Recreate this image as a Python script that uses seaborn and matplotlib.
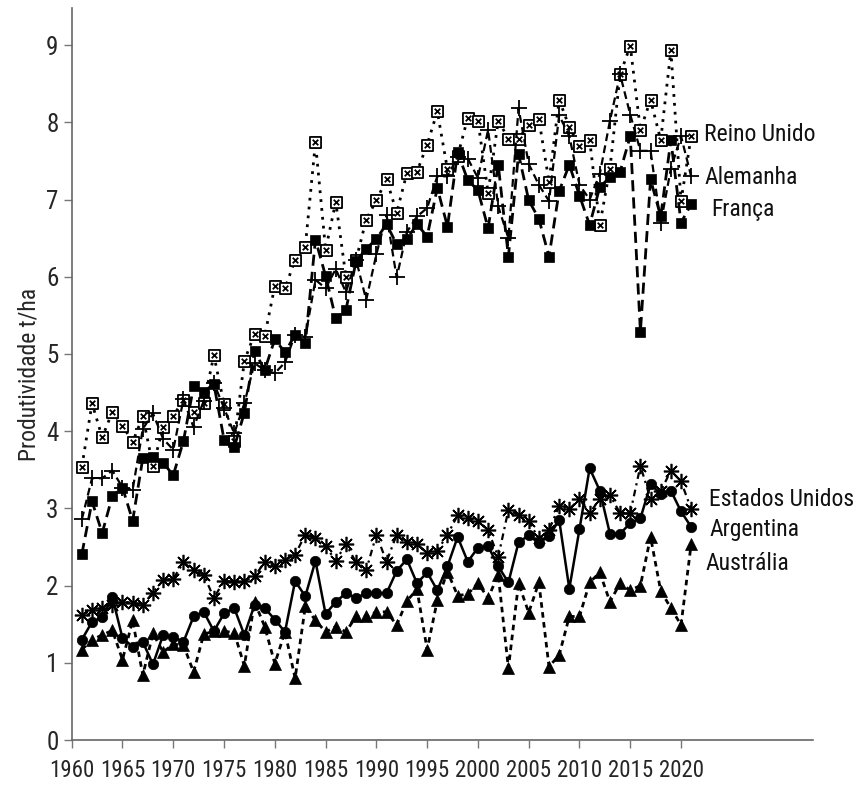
import numpy as np
import seaborn as sns
import matplotlib.pyplot as plt
from matplotlib.path import Path
from matplotlib import font_manager

anos = list(range(1961, 2022))

reino_unido = [3.54, 4.36, 3.92, 4.25, 4.07, 3.86, 4.19, 3.55, 4.05, 4.20,
               4.40, 4.25, 4.37, 4.98, 4.35, 3.87, 4.91, 5.26, 5.23, 5.88,
               5.85, 6.22, 6.39, 7.74, 6.35, 6.97, 6.00, 6.22, 6.74, 6.99,
               7.26, 6.83, 7.34, 7.36, 7.71, 8.14, 7.39, 7.56, 8.06, 8.02,
               7.09, 8.02, 7.79, 7.79, 7.96, 8.04, 7.23, 8.29, 7.94, 7.69,
               7.77, 6.67, 7.40, 8.62, 8.99, 7.90, 8.29, 7.77, 8.93, 6.98,
               7.82]
alemanha = [2.86, 3.39, 3.39, 3.49, 3.27, 3.24, 4.03, 4.23, 3.90, 3.76,
            4.41, 4.05, 4.39, 4.62, 4.30, 3.97, 4.36, 4.88, 4.79, 4.75,
            4.89, 5.25, 5.22, 5.96, 5.85, 6.10, 5.80, 6.22, 5.70, 6.29,
            6.80, 5.99, 6.58, 6.78, 6.89, 7.30, 7.30, 7.55, 7.53, 7.28,
            7.90, 6.91, 6.50, 8.18, 7.46, 7.19, 6.98, 8.09, 7.82, 7.19,
            7.00, 7.33, 8.02, 8.62, 8.10, 7.63, 7.63, 6.69, 7.40, 7.82,
            7.30]
franca = [2.41, 3.09, 2.68, 3.16, 3.27, 2.84, 3.65, 3.67, 3.59, 3.43,
          3.87, 4.58, 4.51, 4.61, 3.89, 3.79, 4.24, 5.04, 4.79, 5.19,
          5.02, 5.25, 5.14, 6.48, 6.01, 5.46, 5.57, 6.20, 6.36, 6.49,
          6.68, 6.42, 6.49, 6.68, 6.52, 7.15, 6.65, 7.61, 7.25, 7.12,
          6.63, 7.45, 6.26, 7.59, 6.99, 6.75, 6.26, 7.11, 7.45, 7.05,
          6.67, 7.16, 7.29, 7.36, 7.82, 5.29, 7.26, 6.78, 7.77, 6.70,
          6.94]
estados_unidos = [1.62, 1.68, 1.71, 1.75, 1.79, 1.78, 1.75, 1.91, 2.07, 2.09,
                  2.30, 2.20, 2.14, 1.84, 2.06, 2.05, 2.06, 2.12, 2.30, 2.25,
                  2.33, 2.40, 2.66, 2.61, 2.51, 2.32, 2.54, 2.30, 2.20, 2.66,
                  2.31, 2.66, 2.57, 2.54, 2.42, 2.45, 2.66, 2.91, 2.88, 2.83,
                  2.72, 2.37, 2.98, 2.91, 2.83, 2.61, 2.72, 3.03, 2.99, 3.12,
                  2.94, 3.12, 3.17, 2.94, 2.94, 3.55, 3.12, 3.22, 3.49, 3.35,
                  2.99]
argentina = [1.30, 1.53, 1.59, 1.85, 1.32, 1.21, 1.27, 0.98, 1.36, 1.34,
             1.27, 1.60, 1.66, 1.41, 1.64, 1.71, 1.36, 1.75, 1.71, 1.56,
             1.40, 2.06, 1.86, 2.32, 1.63, 1.79, 1.90, 1.84, 1.90, 1.90,
             1.90, 2.19, 2.34, 2.03, 2.17, 1.94, 2.25, 2.63, 2.31, 2.49,
             2.51, 2.25, 2.04, 2.56, 2.65, 2.55, 2.64, 2.85, 1.96, 2.73,
             3.52, 3.23, 2.67, 2.67, 2.81, 2.87, 3.31, 3.19, 3.23, 2.96,
             2.76]
australia = [1.17, 1.30, 1.36, 1.42, 1.04, 1.55, 0.84, 1.38, 1.14, 1.24,
             1.23, 0.88, 1.37, 1.41, 1.41, 1.39, 0.96, 1.79, 1.47, 0.99,
             1.40, 0.80, 1.73, 1.55, 1.40, 1.47, 1.40, 1.60, 1.60, 1.66,
             1.66, 1.49, 1.80, 1.95, 1.17, 1.81, 2.18, 1.87, 1.89, 2.03,
             1.84, 2.14, 0.93, 2.03, 1.65, 2.04, 0.95, 1.10, 1.60, 1.60,
             2.04, 2.17, 1.79, 2.03, 1.94, 2.00, 2.63, 1.93, 1.71, 1.49,
             2.54]

sns.set_style("ticks")
# fonte estreita se houver, senao DejaVu condensada
nomes = {f.name for f in font_manager.fontManager.ttflist}
estreita = [n for n in ['Liberation Sans Narrow', 'Roboto Condensed', 'Open Sans Condensed']
            if n in nomes]
plt.rcParams['font.family'] = estreita + ['DejaVu Sans']
if not estreita:
    plt.rcParams['font.stretch'] = 'condensed'
tam = 17 if estreita else 15

# quadrado com um x dentro
caixa_x = Path([(-1, -1), (1, -1), (1, 1), (-1, 1), (-1, -1),
                (-0.5, -0.5), (0.5, 0.5), (-0.5, 0.5), (0.5, -0.5)],
               [Path.MOVETO, Path.LINETO, Path.LINETO, Path.LINETO, Path.CLOSEPOLY,
                Path.MOVETO, Path.LINETO, Path.MOVETO, Path.LINETO])

fig = plt.figure(figsize=(8.6, 7.85), dpi=100)
ax = fig.add_axes([0.0834, 0.0573, 0.862, 0.9325])

sns.lineplot(x=anos, y=reino_unido, ax=ax, color='black', linestyle=(0, (1, 2.2)),
             linewidth=2, marker=caixa_x, markersize=8, markerfacecolor='white',
             markeredgecolor='black', markeredgewidth=1.3)
sns.lineplot(x=anos, y=alemanha, ax=ax, color='black', linestyle=(0, (3.5, 2)),
             linewidth=1.6, marker='+', markersize=12, markeredgecolor='black',
             markeredgewidth=1.3)
sns.lineplot(x=anos, y=franca, ax=ax, color='black', linestyle=(0, (4, 2.2)),
             linewidth=2, marker='s', markersize=6.5, markeredgecolor='black',
             markeredgewidth=0.5)
sns.lineplot(x=anos, y=estados_unidos, ax=ax, color='black', linestyle=(0, (3, 2, 1, 2)),
             linewidth=1.6, marker=(8, 2, 0), markersize=11, markeredgecolor='black',
             markeredgewidth=1.2)
sns.lineplot(x=anos, y=argentina, ax=ax, color='black', linestyle='-',
             linewidth=1.8, marker='o', markersize=7.5, markeredgecolor='black',
             markeredgewidth=0.5)
sns.lineplot(x=anos, y=australia, ax=ax, color='black', linestyle=(0, (2, 1.6)),
             linewidth=2, marker='^', markersize=8, markeredgecolor='black',
             markeredgewidth=0.5)

rotulos = [("Reino Unido", 2022.3, 7.84), ("Alemanha", 2022.3, 7.29),
           ("França", 2023.0, 6.87), ("Estados Unidos", 2022.8, 3.11),
           ("Argentina", 2022.8, 2.72), ("Austrália", 2022.4, 2.29)]
for texto, x, y in rotulos:
    ax.text(x, y, texto, fontsize=tam, ha='left', va='center', color='#111111')

ax.set_xlim(1960, 2033)
ax.set_ylim(0, 9.48)
ax.set_xticks(range(1960, 2021, 5))
ax.set_yticks(range(0, 10))
ax.tick_params(axis='y', labelsize=tam + 1)
ax.tick_params(axis='x', labelsize=tam - 0.5, pad=8)
ax.tick_params(axis='both', length=6, width=1, color='#777777')
ax.set_ylabel("Produtividade t/ha", fontsize=tam)
sns.despine(ax=ax)
for s in ['left', 'bottom']:
    ax.spines[s].set_color('#666666')
    ax.spines[s].set_linewidth(1.2)

fig.savefig("out.png", dpi=100)
